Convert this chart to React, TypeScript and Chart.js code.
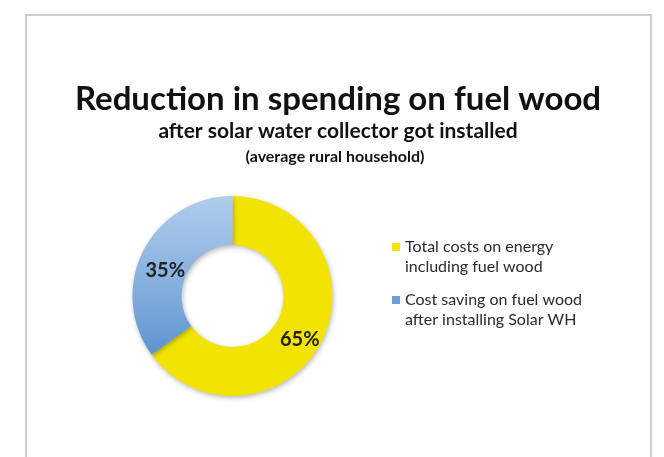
import React, { useEffect, useRef } from "react";
import { Chart, registerables } from "chart.js";

Chart.register(...registerables);

const titleLines = [
  "Reduction in spending on fuel wood",
  "after solar water collector got installed",
  "(average rural household)",
];
const categories = [
  ["Total costs on energy", "including fuel wood"],
  ["Cost saving on fuel wood", "after installing Solar WH"],
];
const values = [65, 35];
const percentLabels = ["65%", "35%"];
const legendColors = ["#f2e400", "#6a9fd6"];

const FONT = "Lato, 'Open Sans', sans-serif";

const textPlugin = {
  id: "textPlugin",
  beforeDatasetsDraw(chart: any) {
    const ctx = chart.ctx;
    ctx.save();
    ctx.shadowColor = "rgba(0,0,0,0.28)";
    ctx.shadowBlur = 5;
    ctx.shadowOffsetX = 1;
    ctx.shadowOffsetY = 2;
  },
  afterDatasetsDraw(chart: any) {
    const ctx = chart.ctx;
    ctx.restore();
    ctx.save();
    ctx.fillStyle = "#111";
    ctx.textAlign = "center";
    ctx.textBaseline = "middle";
    const cx = 338;
    ctx.font = `bold 33px ${FONT}`;
    ctx.fillText(titleLines[0], cx, 99);
    ctx.font = `bold 21px ${FONT}`;
    ctx.fillText(titleLines[1], cx, 131);
    ctx.font = `bold 16px ${FONT}`;
    ctx.fillText(titleLines[2], 335, 157);

    const meta = chart.getDatasetMeta(0);
    ctx.font = `bold 20px ${FONT}`;
    ctx.fillStyle = "#222";
    meta.data.forEach((arc: any, i: number) => {
      const p = arc.getCenterPoint();
      ctx.fillText(percentLabels[i], p.x, p.y + 9);
    });

    ctx.textAlign = "left";
    ctx.font = `16px ${FONT}`;
    const lx = 392;
    const starts = [247, 300];
    categories.forEach((lines, i) => {
      const y0 = starts[i];
      ctx.fillStyle = legendColors[i];
      ctx.fillRect(lx, y0 - 4, 8, 8);
      ctx.fillStyle = "#2a2a2a";
      lines.forEach((t, j) => ctx.fillText(t, lx + 13, y0 + j * 20));
    });
    ctx.restore();
  },
};

export default function App() {
  const ref = useRef<HTMLCanvasElement>(null);
  useEffect(() => {
    if (!ref.current) return;
    const chart = new Chart(ref.current, {
      type: "doughnut",
      data: {
        labels: categories.map((c) => c.join(" ")),
        datasets: [
          {
            data: values,
            borderWidth: 0,
            backgroundColor: (c: any) => {
              const area = c.chart.chartArea;
              if (c.dataIndex === 0 || !area) return "#f2e400";
              const g = c.chart.ctx.createLinearGradient(0, area.top, 0, area.bottom);
              g.addColorStop(0, "#b0cdec");
              g.addColorStop(0.5, "#7fabdc");
              g.addColorStop(1, "#4584c6");
              return g;
            },
          },
        ],
      },
      options: {
        animation: false,
        responsive: false,
        cutout: "51%",
        layout: { padding: { left: 132, right: 331, top: 196, bottom: 61 } },
        plugins: { legend: { display: false }, tooltip: { enabled: false } },
      },
      plugins: [textPlugin],
    });
    return () => chart.destroy();
  }, []);
  return (
    <div style={{ position: "absolute", left: 0, top: 0, width: 664, height: 457, background: "#fff", overflow: "hidden" }}>
      <div
        style={{
          position: "absolute",
          left: 25,
          top: 14,
          width: 627,
          height: 460,
          border: "2px solid #cccccc",
          boxSizing: "border-box",
        }}
      />
      <canvas ref={ref} width={664} height={457} style={{ position: "absolute", left: 0, top: 0 }} />
    </div>
  );
}
